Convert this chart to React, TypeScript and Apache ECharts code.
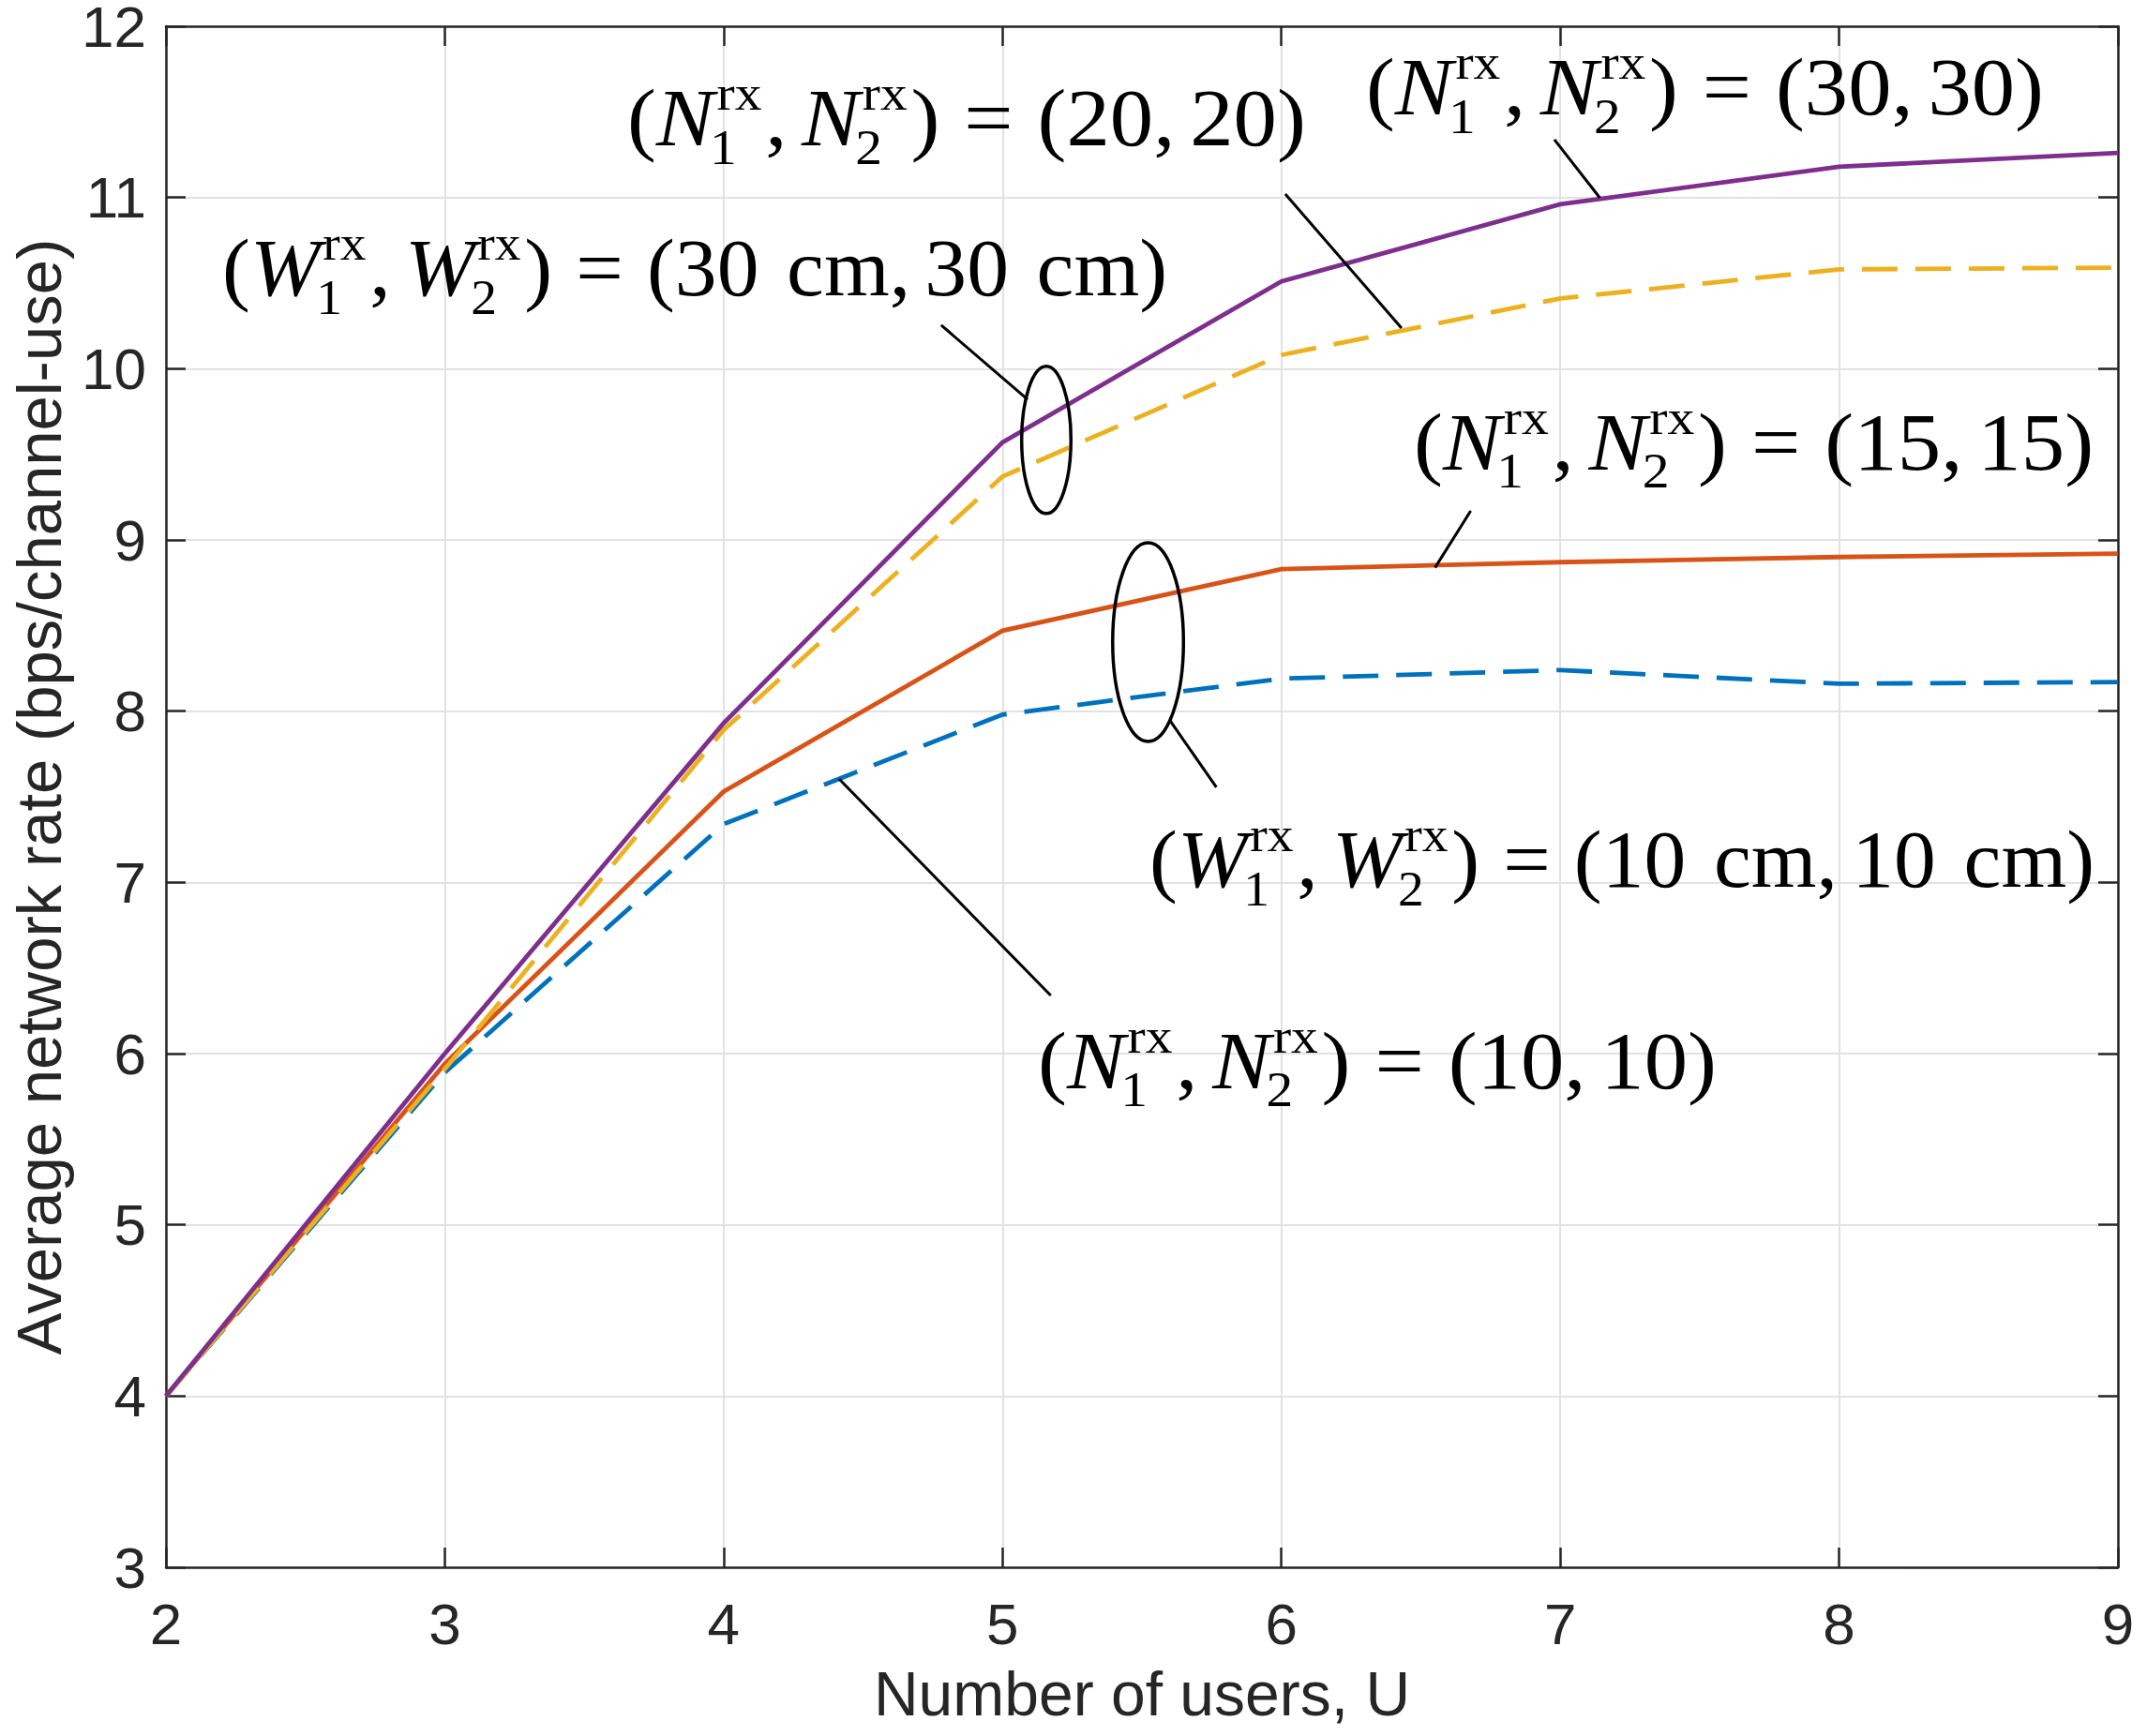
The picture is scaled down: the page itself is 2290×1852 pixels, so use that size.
import React, { useEffect, useRef } from "react";
import * as echarts from "echarts";

// ---------- data ----------
const users = [2, 3, 4, 5, 6, 7, 8, 9];
const rateN10 = [4.0, 5.89, 7.34, 7.98, 8.19, 8.24, 8.16, 8.17];
const rateN15 = [4.0, 5.94, 7.53, 8.47, 8.83, 8.87, 8.9, 8.92];
const rateN20 = [4.0, 5.91, 7.89, 9.37, 10.08, 10.41, 10.58, 10.59];
const rateN30 = [4.0, 6.0, 7.93, 9.57, 10.51, 10.96, 11.18, 11.26];

const antennaValues = ["10", "15", "20", "30"];

const xLabel = "Number of users, U";
const yLabel = "Average network rate (bps/channel-use)";

// ---------- annotation anchors (data coordinates) ----------
const labelAnchors = [
  { kind: "N", value: "30", left: 6.3035, right: 8.734, base: 11.485 },
  { kind: "N", value: "20", left: 3.654, right: 6.088, base: 11.305 },
  { kind: "W", value: "30 cm", left: 2.202, right: 5.591, base: 10.429 },
  { kind: "N", value: "15", left: 6.475, right: 8.913, base: 9.411 },
  { kind: "W", value: "10 cm", left: 5.527, right: 8.916, base: 6.975 },
  { kind: "N", value: "10", left: 5.127, right: 7.561, base: 5.798 },
];
const leaderLines = [
  [6.979, 11.338, 7.142, 10.998],
  [6.014, 11.02, 6.431, 10.237],
  [4.78, 10.254, 5.09, 9.821],
  [6.679, 9.17, 6.551, 8.838],
  [5.601, 7.944, 5.767, 7.555],
  [4.414, 7.604, 5.173, 6.339],
];
const groupEllipses = [
  [5.157, 9.584, 0.0884, 0.43],
  [5.522, 8.403, 0.127, 0.58],
];

const SANS = '"Liberation Sans", Arial, Helvetica, sans-serif';
const SERIF = '"Liberation Serif", "Times New Roman", serif';
const AXIS_COLOR = "#262626";

type Seg =
  | { t: string; it?: boolean }
  | { sup: string; sub: string }
  | { sp: number };

function labelSegs(kind: string, value: string): Seg[] {
  const segs: Seg[] = [
    { t: "(" },
    { t: kind, it: true },
    { sup: "rx", sub: "1" },
    { t: "," },
    { sp: 0.17 },
    { t: kind, it: true },
    { sup: "rx", sub: "2" },
    { t: ")" },
    { sp: 0.28 },
    { t: "=" },
    { sp: 0.28 },
    { t: "(" },
  ];
  const pushVal = (v: string) => {
    v.split(" ").forEach((p, i) => {
      if (i > 0) segs.push({ sp: 0.33 });
      segs.push({ t: p });
    });
  };
  pushVal(value);
  segs.push({ t: "," }, { sp: 0.17 });
  pushVal(value);
  segs.push({ t: ")" });
  return segs;
}

function buildMath(segs: Seg[], S: number, ctx: CanvasRenderingContext2D) {
  const CENTRAL = 0.3375;
  const children: any[] = [];
  const measure = (t: string, size: number, it: boolean) => {
    ctx.font = `${it ? "italic " : ""}${size}px ${SERIF}`;
    return ctx.measureText(t).width;
  };
  const addText = (t: string, x: number, base: number, size: number, it: boolean) => {
    children.push({
      type: "text",
      x,
      y: base - CENTRAL * size,
      silent: true,
      style: {
        text: t,
        fontFamily: SERIF,
        fontSize: size,
        fontStyle: it ? "italic" : "normal",
        fill: "#000",
        align: "left",
        verticalAlign: "middle",
      },
    });
  };
  let x = 0;
  for (const s of segs) {
    if ("sp" in s) {
      x += s.sp * S;
    } else if ("sup" in s) {
      const ss = 0.62 * S;
      const w1 = measure(s.sup, ss, false);
      const w2 = measure(s.sub, ss, false);
      addText(s.sup, x + 0.03 * S, -0.44 * S, ss, false);
      addText(s.sub, x - 0.05 * S, 0.23 * S, ss, false);
      x += Math.max(w1 + 0.03 * S, w2 - 0.05 * S) + 0.04 * S;
    } else {
      const it = !!s.it;
      addText(s.t, x, 0, S, it);
      x += measure(s.t, S, it);
    }
  }
  return { children, width: x };
}

export default function App() {
  const ref = useRef<HTMLDivElement>(null);

  useEffect(() => {
    if (!ref.current) return;
    const chart = echarts.init(ref.current, undefined, { renderer: "svg" });

    const dashed = [38, 19];
    const mkSeries = (name: string, vals: number[], color: string, dash: boolean, z: number) => ({
      name,
      type: "line",
      data: users.map((u, i) => [u, vals[i]]),
      showSymbol: false,
      symbol: "none",
      z,
      lineStyle: { color, width: 4.8, type: dash ? dashed : "solid", cap: "butt", join: "miter" },
    });

    const axisLine = { show: true, onZero: false, lineStyle: { color: AXIS_COLOR, width: 2.5 } };
    const axisTick = { show: true, inside: true, length: 21, lineStyle: { color: AXIS_COLOR, width: 2.5 } };
    const splitLine = { show: true, lineStyle: { color: "#e2e2e2", width: 2 } };

    chart.setOption({
      animation: false,
      backgroundColor: "#ffffff",
      grid: { left: 177, top: 28, right: 31, bottom: 180, containLabel: false, outerBoundsMode: "none" },
      xAxis: [
        {
          type: "value",
          min: 2,
          max: 9,
          interval: 1,
          position: "bottom",
          name: xLabel,
          nameLocation: "middle",
          nameGap: 102,
          nameTextStyle: { fontFamily: SANS, fontSize: 66, color: AXIS_COLOR, lineHeight: 66 },
          axisLine,
          axisTick,
          splitLine,
          axisLabel: { fontFamily: SANS, fontSize: 62, color: AXIS_COLOR, margin: 35, lineHeight: 50 },
        },
        {
          type: "value",
          min: 2,
          max: 9,
          interval: 1,
          position: "top",
          axisLine,
          axisTick,
          splitLine: { show: false },
          axisLabel: { show: false },
        },
      ],
      yAxis: [
        {
          type: "value",
          min: 3,
          max: 12,
          interval: 1,
          position: "left",
          name: yLabel,
          nameLocation: "middle",
          nameGap: 106,
          nameTextStyle: { fontFamily: SANS, fontSize: 67, color: AXIS_COLOR, lineHeight: 60 },
          axisLine,
          axisTick,
          splitLine,
          axisLabel: {
            fontFamily: SANS,
            fontSize: 62,
            color: AXIS_COLOR,
            margin: 21,
            lineHeight: 46,
            padding: [8, 0, 0, 0],
          },
        },
        {
          type: "value",
          min: 3,
          max: 12,
          interval: 1,
          position: "right",
          axisLine,
          axisTick,
          splitLine: { show: false },
          axisLabel: { show: false },
        },
      ],
      series: [
        mkSeries(`N=${antennaValues[0]}`, rateN10, "#0072BD", true, 2),
        mkSeries(`N=${antennaValues[1]}`, rateN15, "#D95319", false, 3),
        mkSeries(`N=${antennaValues[2]}`, rateN20, "#EDB120", true, 4),
        mkSeries(`N=${antennaValues[3]}`, rateN30, "#7E2F8E", false, 5),
      ],
    });

    const px = (u: number, v: number) => chart.convertToPixel({ seriesIndex: 0 }, [u, v]) as number[];
    const canvas = document.createElement("canvas");
    const ctx = canvas.getContext("2d") as CanvasRenderingContext2D;
    const S = 86;

    const graphics: any[] = [];
    leaderLines.forEach(([u1, v1, u2, v2]) => {
      const p1 = px(u1, v1);
      const p2 = px(u2, v2);
      graphics.push({
        type: "line",
        z: 100,
        silent: true,
        shape: { x1: p1[0], y1: p1[1], x2: p2[0], y2: p2[1] },
        style: { stroke: "#000", lineWidth: 3 },
      });
    });
    groupEllipses.forEach(([cu, cv, ru, rv]) => {
      const c = px(cu, cv);
      const e = px(cu + ru, cv + rv);
      graphics.push({
        type: "ellipse",
        z: 100,
        silent: true,
        shape: { cx: c[0], cy: c[1], rx: Math.abs(e[0] - c[0]), ry: Math.abs(c[1] - e[1]) },
        style: { fill: "none", stroke: "#000", lineWidth: 3.5 },
      });
    });
    labelAnchors.forEach((a) => {
      const segs = labelSegs(a.kind, a.value);
      const { children, width } = buildMath(segs, S, ctx);
      const pl = px(a.left, a.base);
      const pr = px(a.right, a.base);
      graphics.push({
        type: "group",
        z: 101,
        x: pl[0],
        y: pl[1],
        scaleX: (pr[0] - pl[0]) / width,
        children,
      });
    });
    chart.setOption({ graphic: graphics });

    return () => chart.dispose();
  }, []);

  return (
    <div
      ref={ref}
      style={{ position: "absolute", left: 0, top: 0, width: 2290, height: 1852, background: "#fff" }}
    />
  );
}
